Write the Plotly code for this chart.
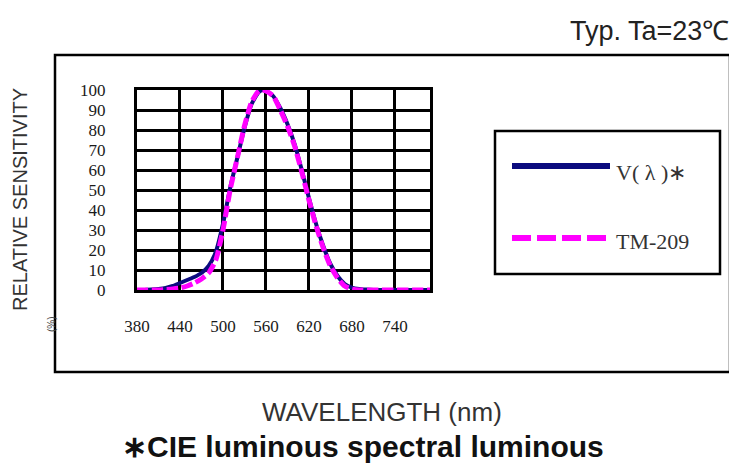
import plotly.graph_objects as go

# ---- data ----
wavelength = [380, 390, 400, 410, 420, 430, 440, 450, 460, 470, 480, 490, 500, 510,
              520, 530, 540, 550, 555, 560, 570, 580, 590, 600, 610, 620, 630, 640,
              650, 660, 670, 680, 690, 700, 710, 720, 730, 740, 750, 760, 770, 780, 790]
v_lambda = [0, 0, 0.2, 0.5, 1, 2, 3.5, 5, 6.5, 8.5, 12, 19, 33, 51,
            66, 81, 93, 99, 100, 99.5, 97, 91, 83, 73, 60, 46, 33, 22,
            13, 7, 3, 1.2, 0.5, 0.2, 0, 0, 0, 0, 0, 0, 0, 0, 0]
tm_209 = [0, 0, 0, 0, 0.2, 0.5, 1, 2, 3.5, 5.5, 8.5, 15, 30, 50,
          66, 82, 94, 99.5, 100, 99.5, 97, 90, 82, 72, 59, 45, 32, 21,
          12, 6, 2, 0.5, 0, 0, 0, 0, 0, 0, 0, 0, 0, 0, 0]
series_names = ["V( λ )∗", "TM-209"]
x_ticks = [380, 440, 500, 560, 620, 680, 740]
y_ticks = [0, 10, 20, 30, 40, 50, 60, 70, 80, 90, 100]

OFF = 8                      # page body margin
W, H = 737 - OFF, 466 - OFF  # figure size
L, R, T, B = 137, 430, 90, 290  # plot area in page pixels


def px(x):
    return (x - L) / (R - L)


def py(y):
    return (B - y) / (B - T)


NAVY = "#0b0b7e"
MAGENTA = "#ff00ff"

fig = go.Figure()
fig.add_trace(go.Scatter(x=wavelength, y=v_lambda, mode="lines", name=series_names[0],
                         line=dict(color=NAVY, width=4, shape="spline", smoothing=0.6),
                         showlegend=False))
fig.add_trace(go.Scatter(x=wavelength, y=tm_209, mode="lines", name=series_names[1],
                         line=dict(color=MAGENTA, width=5, dash="11px,4px",
                                   shape="spline", smoothing=0.6),
                         showlegend=False))

axis_common = dict(showgrid=True, gridcolor="black", gridwidth=3, zeroline=False,
                   showline=True, linecolor="black", linewidth=3, mirror=True,
                   ticks="", tickfont=dict(family="Liberation Serif", size=17, color="#1a1a1a"),
                   fixedrange=True)

fig.update_xaxes(range=[380, 789], tickmode="array", tickvals=x_ticks,
                 ticktext=[str(v) for v in x_ticks], ticklabelstandoff=19, **axis_common)
fig.update_yaxes(range=[0, 100], tickmode="array", tickvals=y_ticks,
                 ticktext=[str(v) for v in y_ticks], ticklabelstandoff=25, **axis_common)

shapes = [
    # outer frame
    dict(type="rect", xref="paper", yref="paper", x0=px(55), x1=px(730), y0=py(372), y1=py(55),
         line=dict(color="black", width=2.5), layer="below"),
    # legend frame
    dict(type="rect", xref="paper", yref="paper", x0=px(495), x1=px(720), y0=py(274), y1=py(131),
         line=dict(color="black", width=2.5)),
    # legend samples
    dict(type="line", xref="paper", yref="paper", x0=px(512), x1=px(610), y0=py(166), y1=py(166),
         line=dict(color=NAVY, width=6)),
    dict(type="line", xref="paper", yref="paper", x0=px(512), x1=px(610), y0=py(238), y1=py(238),
         line=dict(color=MAGENTA, width=6, dash="19px,6px")),
]

annotations = [
    dict(text="Typ. Ta=23℃", x=px(731), y=py(31), xanchor="right", yanchor="middle",
         font=dict(family="Liberation Sans", size=27, color="#222")),
    dict(text="RELATIVE SENSITIVITY", x=px(20), y=py(200), textangle=-90,
         xanchor="center", yanchor="middle",
         font=dict(family="Liberation Sans", size=20, color="#333")),
    dict(text="(%)", x=px(51), y=py(324), textangle=-90, xanchor="center", yanchor="middle",
         font=dict(family="Liberation Sans", size=10, color="#444")),
    dict(text="WAVELENGTH (nm)", x=px(382), y=py(412), xanchor="center", yanchor="middle",
         font=dict(family="Liberation Sans", size=26, color="#333")),
    dict(text="<b>∗CIE luminous spectral luminous</b>", x=px(363), y=py(446),
         xanchor="center", yanchor="middle",
         font=dict(family="Liberation Sans", size=30, color="#111")),
    dict(text=series_names[0], x=px(614), y=py(172), xanchor="left", yanchor="middle",
         font=dict(family="Liberation Serif", size=22, color="#333")),
    dict(text=series_names[1], x=px(614), y=py(241), xanchor="left", yanchor="middle",
         font=dict(family="Liberation Serif", size=22, color="#333")),
]
for a in annotations:
    a.update(xref="paper", yref="paper", showarrow=False)

fig.update_layout(width=W, height=H,
                  margin=dict(l=L - OFF, r=(W + OFF) - R, t=T - OFF, b=(H + OFF) - B),
                  paper_bgcolor="white", plot_bgcolor="white",
                  shapes=shapes, annotations=annotations, showlegend=False)

fig.write_html("out.html", config={"displayModeBar": False})
